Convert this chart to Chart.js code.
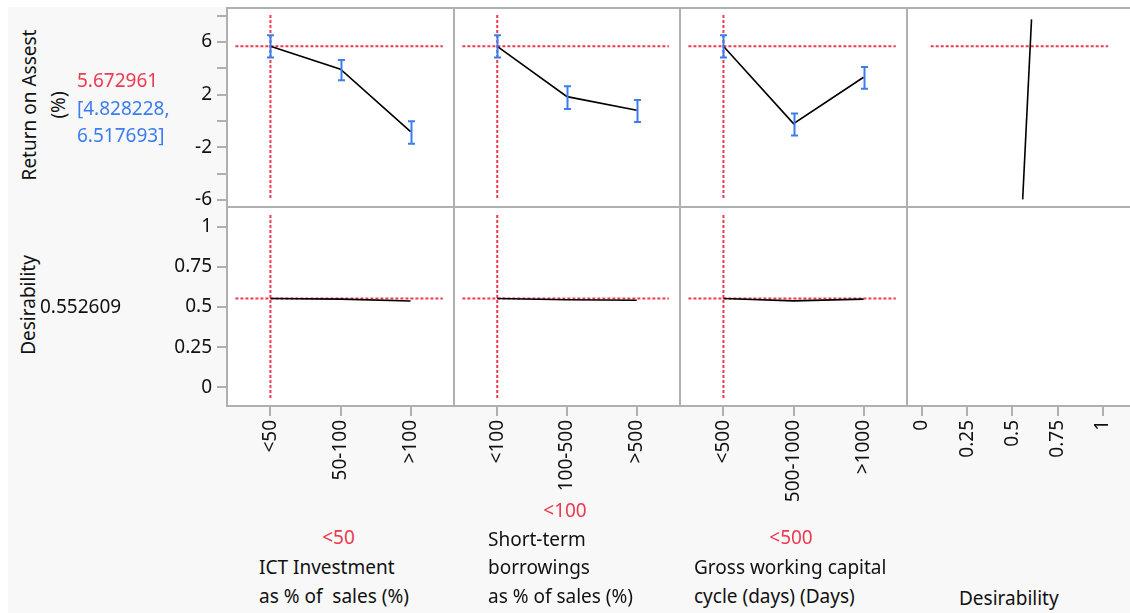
<!DOCTYPE html>
<html>
<head>
<meta charset="utf-8">
<script src="https://cdn.jsdelivr.net/npm/chart.js@4.4.1/dist/chart.umd.min.js"></script>
<style>
  body { margin: 0; width: 1130px; height: 613px; overflow: hidden; background: #fff; font-family: "Noto Sans", sans-serif; position: relative; }
  #bg { position: absolute; left: 8px; top: 7px; width: 1130px; height: 613px; background: #f8f8f8; }
  .box { position: absolute; box-sizing: border-box; border: 2px solid #b0b0b0; background: #fff; }
  canvas { position: absolute; }
  .t { position: absolute; font-size: 19px; line-height: 26px; height: 26px; white-space: pre; color: #111; }
  .rot { position: absolute; font-size: 19px; line-height: 29px; white-space: pre; text-align: center; color: #111;
         transform: translate(-50%, -50%) rotate(-90deg); }
</style>
</head>
<body>
<div id="bg"></div>
<script>
// categories
var ictCats = ['<50', '50-100', '>100'];
var stbCats = ['<100', '100-500', '>500'];
var gwcCats = ['<500', '500-1000', '>1000'];

// Return on Assest (%) profile + confidence limits
var roaIct = [5.673, 3.93, -0.81];
var roaIctLo = [4.828, 3.09, -1.72];
var roaIctHi = [6.518, 4.63, -0.02];
var roaStb = [5.673, 1.85, 0.81];
var roaStbLo = [4.828, 0.91, -0.07];
var roaStbHi = [6.518, 2.64, 1.60];
var roaGwc = [5.673, -0.20, 3.32];
var roaGwcLo = [4.828, -1.11, 2.45];
var roaGwcHi = [6.518, 0.56, 4.10];

// desirability profile
var desIct = [0.5526, 0.549, 0.537];
var desStb = [0.5526, 0.545, 0.542];
var desGwc = [0.5526, 0.538, 0.549];

// desirability function of ROA (x = desirability, y = ROA)
var desFnX = [0.557, 0.606];
var desFnY = [-5.95, 7.72];

// current settings
var roaNow = 5.672961;
var roaLoNow = 4.828228;
var roaHiNow = 6.517693;
var desNow = 0.552609;

// ticks
var roaTicks = [-6, -4, -2, 0, 2, 4, 6, 8];
var roaTickLabels = ['-6', '', '-2', '', '2', '', '6', ''];
var desTicks = [0, 0.25, 0.5, 0.75, 1];
var desTickLabels = ['0', '0.25', '0.5', '0.75', '1'];

var RED = '#ec3a50', BLUE = '#3b7df0';
Chart.defaults.font.family = '"Noto Sans", sans-serif';
Chart.defaults.font.size = 19;
Chart.defaults.color = '#111';

var xs = [227, 454, 680, 907, 1134];
var ys = [8, 207, 406];
var catRange = [-0.62, 2.62];
var desXRange = [-0.083, 1.173];
var roaRange = [-6.532, 8.582];
var desYRange = [-0.1164, 1.1227];

var errorBars = {
  id: 'errorBars',
  afterDatasetsDraw: function (chart, args, opts) {
    if (!opts.lo) return;
    var ctx = chart.ctx, sx = chart.scales.x, sy = chart.scales.y;
    ctx.save();
    ctx.strokeStyle = BLUE;
    ctx.lineWidth = 2;
    opts.lo.forEach(function (lo, i) {
      var px = Math.round(sx.getPixelForValue(i)) + 0.5;
      var a = sy.getPixelForValue(lo), b = sy.getPixelForValue(opts.hi[i]);
      ctx.beginPath();
      ctx.moveTo(px, a); ctx.lineTo(px, b);
      ctx.moveTo(px - 3.5, a); ctx.lineTo(px + 3.5, a);
      ctx.moveTo(px - 3.5, b); ctx.lineTo(px + 3.5, b);
      ctx.stroke();
    });
    ctx.restore();
  }
};

function pts(xv, yv) {
  return yv.map(function (v, i) { return { x: xv ? xv[i] : i, y: v }; });
}

function axis(show, range, ticks, labels, horizontal, size) {
  return {
    type: 'linear',
    display: show,
    min: range[0],
    max: range[1],
    afterBuildTicks: function (s) { s.ticks = ticks.map(function (v) { return { value: v }; }); },
    afterFit: function (s) {
      if (horizontal) s.height = size; else s.width = size;
      // keep the plot area exactly the panel box
      s.paddingTop = 0; s.paddingBottom = 0; s.paddingLeft = 0; s.paddingRight = 0;
    },
    ticks: {
      autoSkip: false,
      minRotation: horizontal ? 90 : 0,
      maxRotation: horizontal ? 90 : 0,
      padding: horizontal ? 4 : 5,
      color: '#111',
      callback: function (v, i) { return labels[i]; }
    },
    grid: { drawOnChartArea: false, tickLength: 10, color: '#b0b0b0', lineWidth: 2 },
    border: { display: false }
  };
}

function panel(r, c, datasets, xr, xt, xl, yr, yt, yl, bars) {
  var x0 = xs[c], x1 = xs[c + 1], y0 = ys[r], y1 = ys[r + 1];
  var leftW = c === 0 ? 120 : 0, bottomH = r === 1 ? 110 : 0;

  var box = document.createElement('div');
  box.className = 'box';
  box.style.cssText = 'left:' + (x0 - 1) + 'px;top:' + (y0 - 1) + 'px;width:' + (x1 - x0 + 2) + 'px;height:' + (y1 - y0 + 2) + 'px;';
  document.body.appendChild(box);

  var cv = document.createElement('canvas');
  cv.width = x1 - x0 + leftW;
  cv.height = y1 - y0 + bottomH;
  cv.style.left = (x0 - leftW) + 'px';
  cv.style.top = y0 + 'px';
  document.body.appendChild(cv);

  new Chart(cv.getContext('2d'), {
    type: 'line',
    data: { datasets: datasets },
    options: {
      responsive: false,
      animation: false,
      layout: { autoPadding: false, padding: 0 },
      scales: {
        x: axis(r === 1, xr, xt, xl, true, bottomH),
        y: axis(c === 0, yr, yt, yl, false, leftW)
      },
      plugins: { legend: { display: false }, tooltip: { enabled: false }, errorBars: bars || {} }
    },
    plugins: [errorBars]
  });
}

function profile(data) {
  return { data: data, borderColor: '#000', borderWidth: 1.6, pointRadius: 0, tension: 0 };
}
function cross(data) {
  return { data: data, borderColor: RED, borderWidth: 2, borderDash: [3, 2], pointRadius: 0 };
}

var catIdx = [0, 1, 2];
var catSets = [[ictCats, roaIct, roaIctLo, roaIctHi, desIct],
               [stbCats, roaStb, roaStbLo, roaStbHi, desStb],
               [gwcCats, roaGwc, roaGwcLo, roaGwcHi, desGwc]];

catSets.forEach(function (s, c) {
  panel(0, c, [
    profile(pts(null, s[1])),
    cross([{ x: -0.5, y: roaNow }, { x: 2.46, y: roaNow }]),
    cross([{ x: 0, y: 8.05 }, { x: 0, y: -6.0 }])
  ], catRange, catIdx, s[0], roaRange, roaTicks, roaTickLabels, { lo: s[2], hi: s[3] });

  panel(1, c, [
    profile(pts(null, s[4])),
    cross([{ x: -0.5, y: desNow }, { x: 2.46, y: desNow }]),
    cross([{ x: 0, y: 1.073 }, { x: 0, y: -0.075 }])
  ], catRange, catIdx, s[0], desYRange, desTicks, desTickLabels);
});

panel(0, 3, [
  profile(pts(desFnX, desFnY)),
  cross([{ x: 0.048, y: roaNow }, { x: 1.03, y: roaNow }])
], desXRange, desTicks, desTickLabels, roaRange, roaTicks, roaTickLabels);

panel(1, 3, [], desXRange, desTicks, desTickLabels, desYRange, desTicks, desTickLabels);

// text
function line(text, x, cy, color, center) {
  var d = document.createElement('div');
  d.className = 't';
  d.textContent = text;
  d.style.left = x + 'px';
  d.style.top = (cy - 13) + 'px';
  if (color) d.style.color = color;
  if (center) d.style.transform = 'translateX(-50%)';
  document.body.appendChild(d);
}
function rot(text, cx, cy) {
  var d = document.createElement('div');
  d.className = 'rot';
  d.textContent = text;
  d.style.left = cx + 'px';
  d.style.top = cy + 'px';
  document.body.appendChild(d);
}

rot('Return on Assest\n(%)', 43.5, 105);
rot('Desirability', 28, 305);
line(roaNow.toFixed(6), 77, 80, RED);
line('[' + roaLoNow.toFixed(6) + ',', 77, 108, BLUE);
line(roaHiNow.toFixed(6) + ']', 77, 135, BLUE);
line(desNow.toFixed(6), 40, 306);

line(ictCats[0], 338.5, 537, RED, true);
line('ICT Investment', 259, 567);
line('as % of  sales (%)', 259, 596);
line(stbCats[0], 565, 510, RED, true);
line('Short-term', 488, 539);
line('borrowings', 488, 567);
line('as % of sales (%)', 488, 596);
line(gwcCats[0], 791, 537, RED, true);
line('Gross working capital', 694, 567);
line('cycle (days) (Days)', 694, 596);
line('Desirability', 959, 598);
</script>
</body>
</html>
